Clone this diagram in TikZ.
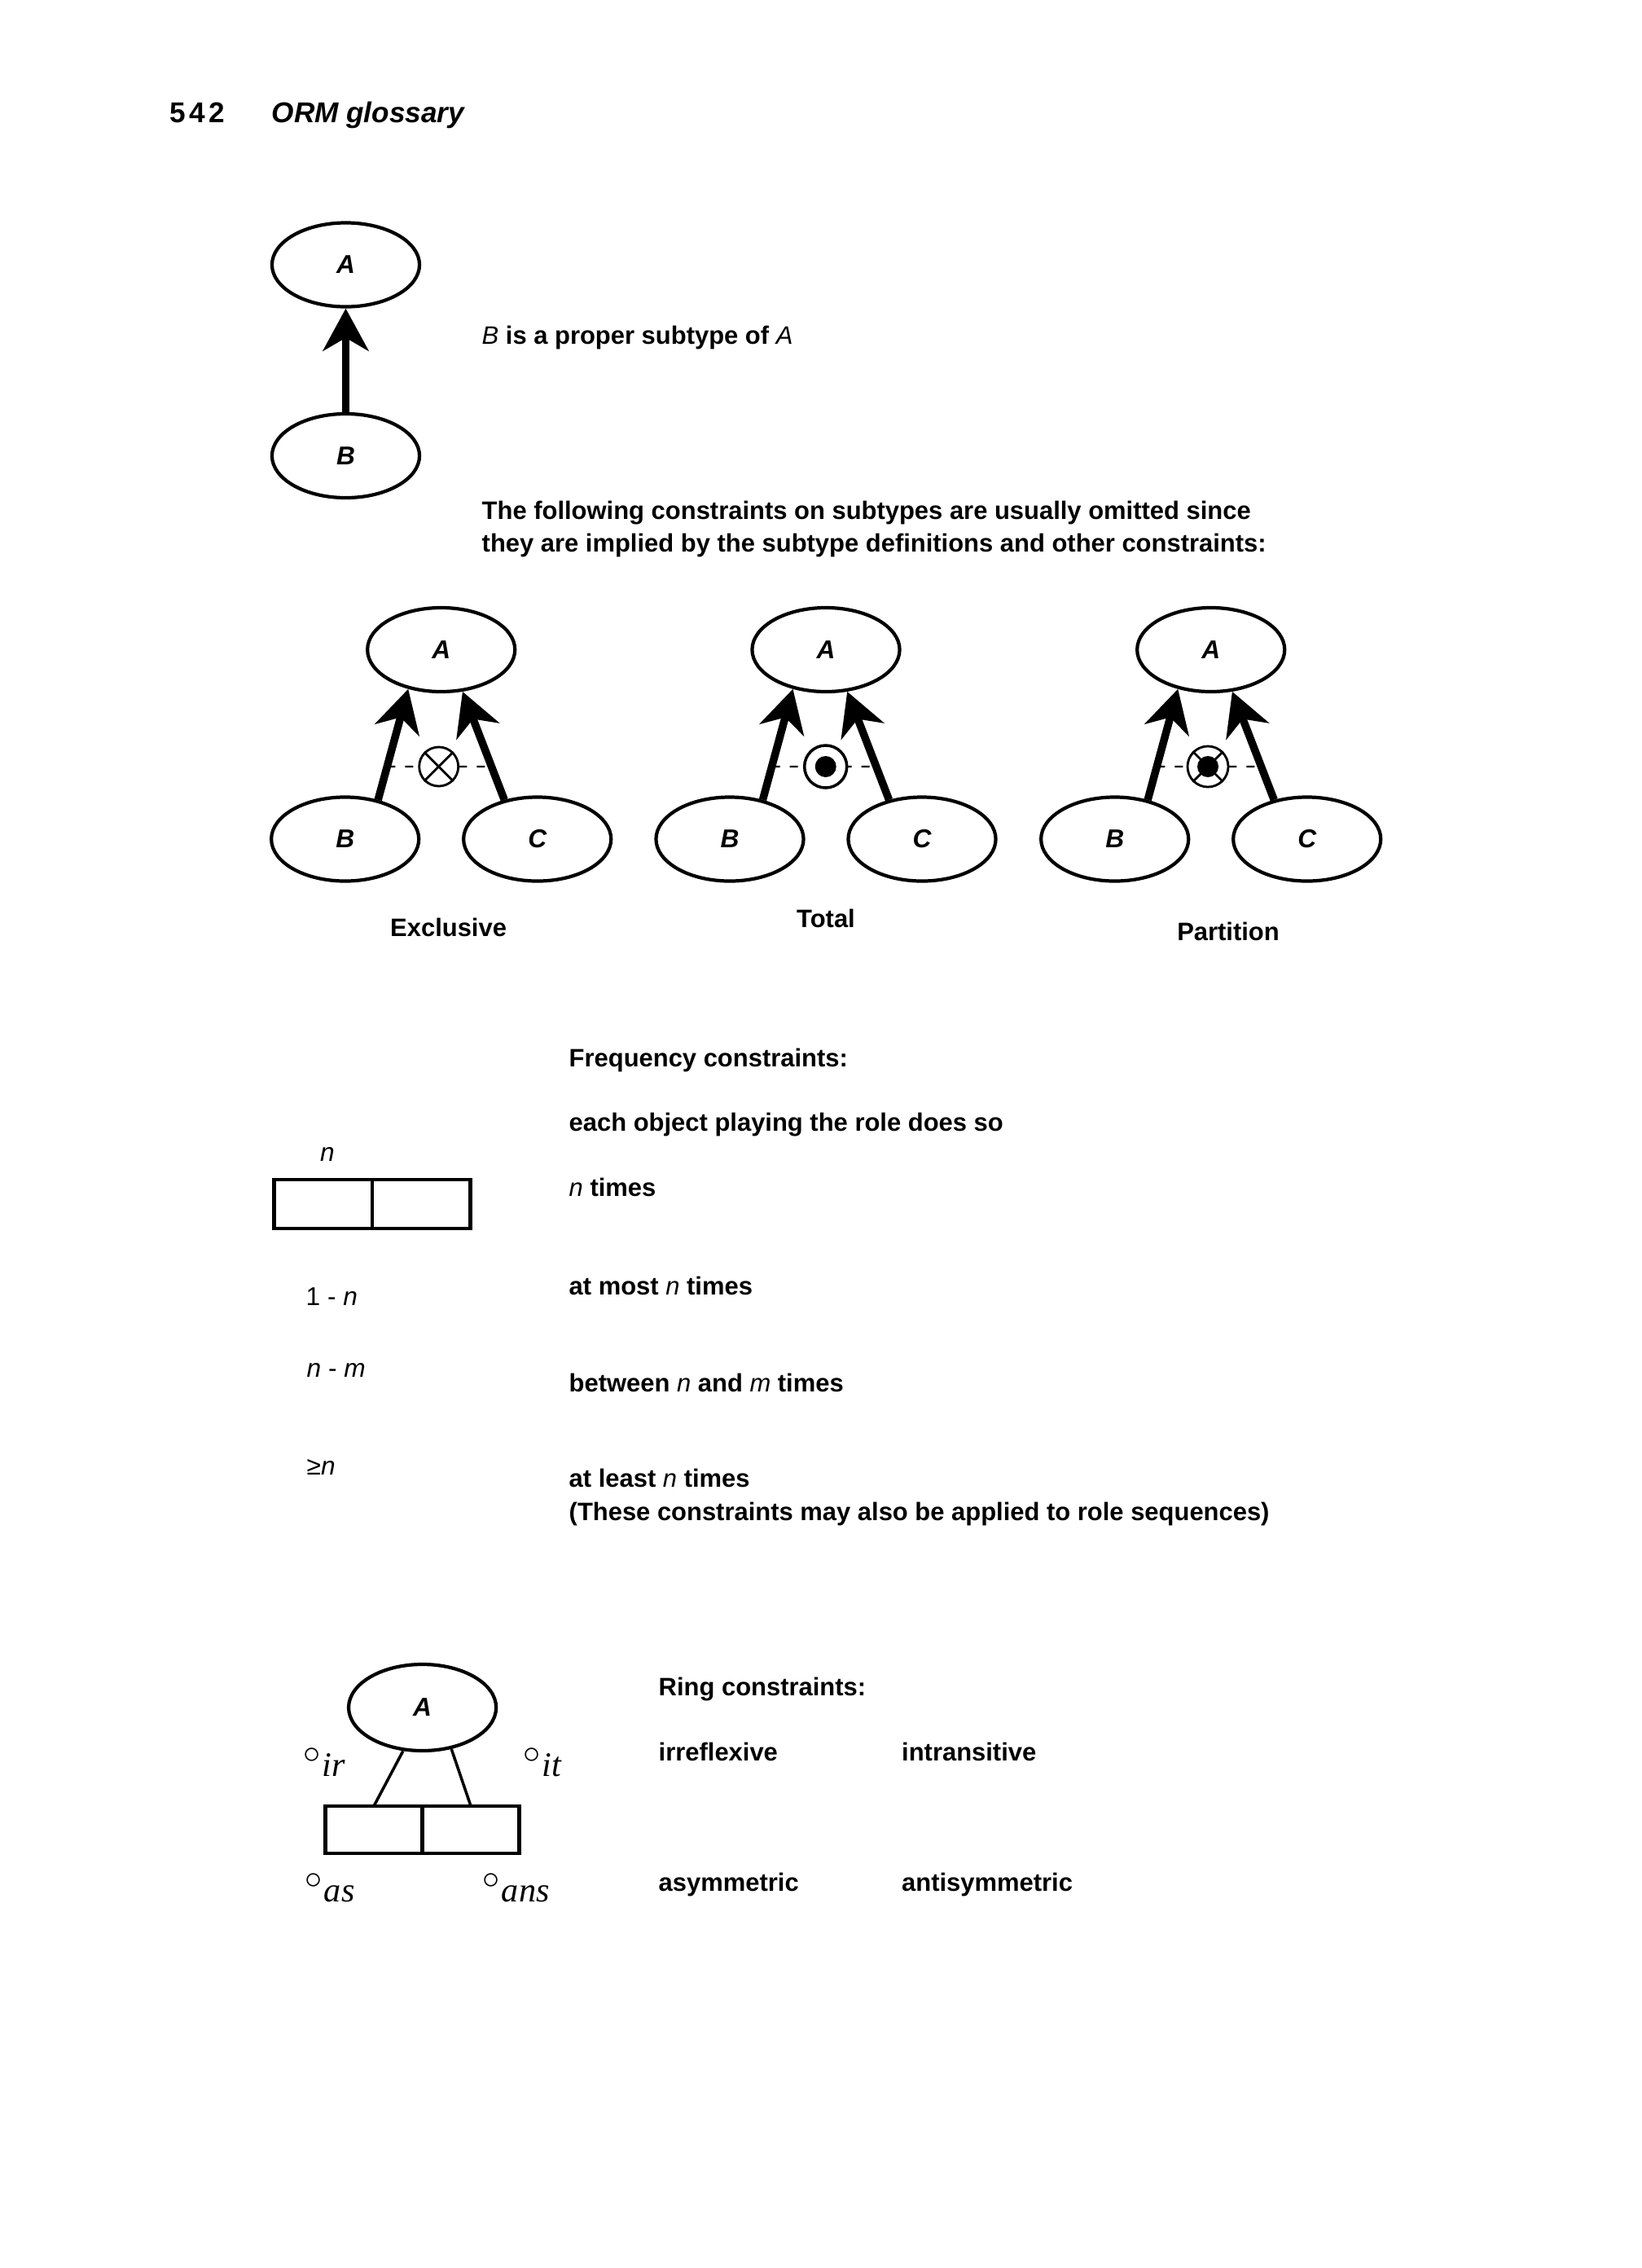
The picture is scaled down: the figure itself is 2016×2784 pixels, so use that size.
\documentclass[tikz,border=0pt]{standalone}
\usepackage{fontspec}
\setmainfont{Liberation Sans}
\newfontfamily\rmfam{Liberation Serif}
\usetikzlibrary{arrows.meta,shapes.geometric}
\newcommand\vn[1]{{\mdseries\itshape #1}}
\newcommand\ringlab[1]{{\fontsize{12}{14}\selectfont\raisebox{4.5pt}{$\circ$}\kern0.6pt{\rmfam\itshape #1}}}
\begin{document}
\begin{tikzpicture}[x=0.01cm,y=-0.01cm,
 ent/.style={ellipse, draw, line width=1.2pt, minimum width=1.81cm, minimum height=1.03cm, inner sep=0pt, font=\fontsize{9}{10}\selectfont\bfseries\itshape},
 sub/.style={line width=2.7pt, -{Stealth[length=5.2mm, width=5.6mm, inset=1.6mm]}},
 body/.style={anchor=base west, inner sep=0pt, font=\fontsize{8.8}{11.4}\selectfont\bfseries},
 lab/.style={anchor=base west, inner sep=0pt, font=\fontsize{9}{11}\selectfont},
 role/.style={rectangle, draw, line width=1.3pt, minimum width=1.205cm, minimum height=0.6cm, inner sep=0pt, outer sep=0pt},
 symb/.style={circle, draw, line width=0.8pt, minimum size=0.48cm, inner sep=0pt, fill=white},
 dot/.style={circle, fill=black, minimum size=0.26cm, inner sep=0pt},
 dsh/.style={line width=0.6pt, dash pattern=on 0.1cm off 0.12cm},
 thin/.style={line width=1pt}]
\fill[white] (0,0) rectangle (2016,2784);
\useasboundingbox (0,0) rectangle (2016,2784);

% header
\node[anchor=base west, inner sep=0pt, font=\fontsize{10}{12}\selectfont\bfseries\addfontfeatures{LetterSpace=12}] (pg) at (208,150) {542};
\node[anchor=base west, inner sep=0pt, font=\fontsize{10}{12}\selectfont\bfseries\itshape] (ttl) at (333,150) {ORM glossary};

% proper subtype
\node[ent] (A0) at (424.5,325) {A};
\node[ent] (B0) at (424.5,559.5) {B};
\draw[sub] (B0) -- (A0);
\node[body] (t0) at (591,422) {\vn{B} is a proper subtype of \vn{A}};
\node[body] (t1) at (591,637) {The following constraints on subtypes are usually omitted since};
\node[body] (t2) at (591,677) {they are implied by the subtype definitions and other constraints:};

% exclusive
\node[ent] (A1) at (541.7,797.5) {A};
\node[ent] (B1) at (423.7,1030) {B};
\node[ent] (C1) at (659.7,1030) {C};
\coordinate (h1l) at (400,941);
\coordinate (h1r) at (700,941);
\draw[dsh] (intersection of B1.50--A1.-130 and h1l--h1r) -- (intersection of C1.130--A1.-63 and h1l--h1r);
\draw[sub] (B1.50) -- (A1.-130);
\draw[sub] (C1.130) -- (A1.-63);
\node[symb] (X1) at (538.7,941) {};
\draw[line width=0.8pt] (X1.45) -- (X1.-135) (X1.135) -- (X1.-45);
\node[body, anchor=base] (L1) at (550.6,1149) {Exclusive};

% total
\node[ent] (A2) at (1014,797.5) {A};
\node[ent] (B2) at (896,1030) {B};
\node[ent] (C2) at (1132,1030) {C};
\coordinate (h2l) at (870,941);
\coordinate (h2r) at (1170,941);
\draw[dsh] (intersection of B2.50--A2.-130 and h2l--h2r) -- (intersection of C2.130--A2.-63 and h2l--h2r);
\draw[sub] (B2.50) -- (A2.-130);
\draw[sub] (C2.130) -- (A2.-63);
\node[symb, line width=1pt, minimum size=0.52cm] (X2) at (1013.7,941) {};
\node[dot] (D2) at (X2.center) {};
\node[body, anchor=base] (L2) at (1014,1138) {Total};

% partition
\node[ent] (A3) at (1486.7,797.5) {A};
\node[ent] (B3) at (1368.7,1030) {B};
\node[ent] (C3) at (1604.7,1030) {C};
\coordinate (h3l) at (1340,941);
\coordinate (h3r) at (1640,941);
\draw[dsh] (intersection of B3.50--A3.-130 and h3l--h3r) -- (intersection of C3.130--A3.-63 and h3l--h3r);
\draw[sub] (B3.50) -- (A3.-130);
\draw[sub] (C3.130) -- (A3.-63);
\node[symb, minimum size=0.5cm] (X3) at (1483,941) {};
\draw[line width=0.8pt] (X3.45) -- (X3.-135) (X3.135) -- (X3.-45);
\node[dot] (D3) at (X3.center) {};
\node[body, anchor=base] (L3) at (1508,1154) {Partition};

% frequency constraints
\node[body] (fc) at (698,1309) {Frequency constraints:};
\node[body] (eo) at (698,1388) {each object playing the role does so};
\node[lab, anchor=base] (fn) at (402,1425) {\textit{n}};
\node[role] (r1) at (396.5,1478) {};
\node[role, anchor=west] (r2) at (r1.east) {};
\node[body] (f1) at (698,1468) {\vn{n} times};
\node[lab] (l2) at (375,1602) {1 - \textit{n}};
\node[body] (f2) at (698,1589) {at most \vn{n} times};
\node[lab] (l3) at (376,1690) {\textit{n} - \textit{m}};
\node[body] (f3) at (698,1708) {between \vn{n} and \vn{m} times};
\node[lab] (l4) at (376,1810) {≥\textit{n}};
\node[body] (f4) at (698,1825) {at least \vn{n} times};
\node[body] (f5) at (698,1866) {(These constraints may also be applied to role sequences)};

% ring constraints
\node[ent, minimum height=1.06cm] (RA) at (518.6,2096) {A};
\node[role, minimum width=1.19cm, minimum height=0.58cm] (RL) at (459,2246) {};
\node[role, minimum width=1.19cm, minimum height=0.58cm, anchor=west] (RR) at (RL.east) {};
\draw[thin] (RA.-114) -- (RL.north);
\draw[thin] (RA.-55) -- (RR.north);
\node[anchor=base west, inner sep=0pt] (rir) at (372,2180) {\ringlab{ir}};
\node[anchor=base west, inner sep=0pt] (rit) at (642,2180) {\ringlab{it}};
\node[anchor=base west, inner sep=0pt] (ras) at (374,2334) {\ringlab{as}};
\node[anchor=base west, inner sep=0pt] (rans) at (592,2334) {\ringlab{ans}};
\node[body] (rc) at (808,2081) {Ring constraints:};
\node[body] (rc1) at (808,2161) {irreflexive};
\node[body] (rc2) at (1106.5,2161) {intransitive};
\node[body] (rc3) at (808,2321) {asymmetric};
\node[body] (rc4) at (1106.5,2321) {antisymmetric};
\end{tikzpicture}
\end{document}
